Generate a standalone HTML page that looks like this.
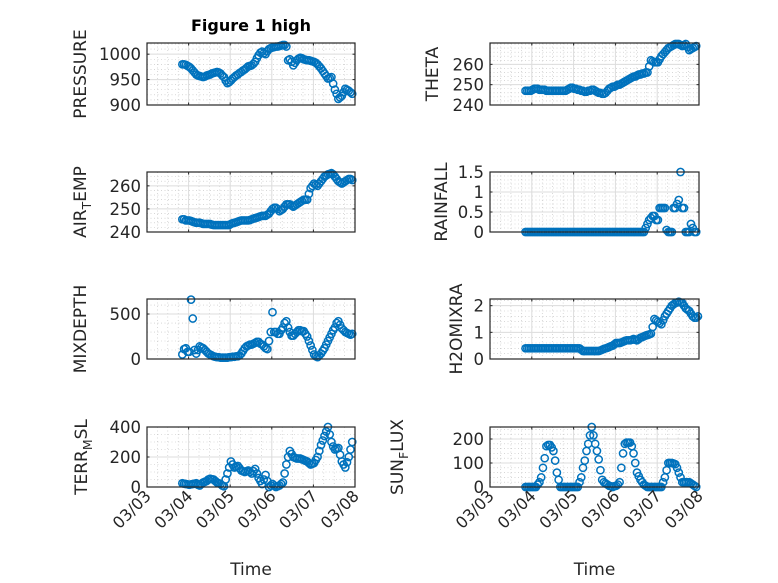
<!DOCTYPE html>
<html><head><meta charset="utf-8"><style>
html,body{margin:0;padding:0;background:#fff}
svg{display:block;font-family:"DejaVu Sans","Liberation Sans",sans-serif}
</style></head><body>
<svg id="fig" width="778" height="583" viewBox="0 0 778 583">
<text x="251" y="31" text-anchor="middle" font-size="16" font-weight="bold" fill="#000">Figure 1 high</text>
</svg>
<script>
// time in days since 03/03 00:00, hourly steps
const timeStart = 0.85, timeStep = 1/24;
const dayTicks = ['03/03','03/04','03/05','03/06','03/07','03/08'];
const pressure = [980,980,979,977,975,972,968,964,960,958,957,956,955,956,958,959,960,962,963,964,965,964,962,958,955,948,943,945,948,952,955,958,960,963,965,968,970,973,976,977,978,981,985,992,998,1003,1005,1002,1000,1006,1010,1012,1013,1014,1015,1015,1016,1017,1018,1018,1015,988,990,985,978,983,988,991,993,992,990,989,988,988,987,986,985,983,980,976,972,967,962,957,952,953,955,942,930,922,912,915,918,925,932,930,928,925,922];
const theta = [247,247,247,247,247.5,248,248,248,247.5,247.5,247.5,247.5,247,247,247,247,247,247,247,247,247,247,247,247,247.5,248,248.5,248.5,248,248,247.5,247.5,247,247,246.5,246.5,247,247,247.5,247.5,247,246.5,246,246,245.5,245.5,246,247,248,248.5,249,249,249.5,250,250,250.5,251,251.5,252,252.5,253,253.5,254,254,254.5,255,255,255.5,255.5,256,256,259,262,261.5,261,261,261,262.5,264,265,266,267,268,268.5,269,269.5,270,270,270,269.5,269,269.5,270,268.5,267,267.5,268,268.5,269];
const airTemp = [245.5,245.5,245,245,245,244.8,244.5,244.2,244,244,244,243.8,243.5,243.5,243.5,243.5,243.5,243.2,243,243,243,243,243,243,243,243,243,243,243.5,243.8,244,244.2,244.5,244.8,245,245,245,245,245,245.2,245.5,245.8,246,246.2,246.5,246.8,247,247,247,247.5,248,249,250,250.5,250.5,250,249,249.5,250,251,252,252,252,251.5,251,251.5,252,252.5,253,253.5,254,254,254,256.5,259,260,261,260.5,260,261,262,263,264,264.5,265,265.2,265.5,265,264,263,262,261.5,261,261.5,262,262.5,263,263,262.5];
const rainfall = [0,0,0,0,0,0,0,0,0,0,0,0,0,0,0,0,0,0,0,0,0,0,0,0,0,0,0,0,0,0,0,0,0,0,0,0,0,0,0,0,0,0,0,0,0,0,0,0,0,0,0,0,0,0,0,0,0,0,0,0,0,0,0,0,0,0,0,0,0,0.1,0.2,0.3,0.35,0.4,0.4,0.3,0.3,0.6,0.6,0.6,0.6,0.05,0,0,0,0.6,0.6,0.7,0.8,1.5,0.6,0.6,0,0,0,0.2,0.1,0,0];
const mixDepth = [50,110,120,80,80,660,450,100,60,100,140,130,120,100,80,60,50,40,30,25,20,20,15,15,15,15,15,20,20,25,25,30,30,40,60,90,120,140,150,160,160,170,180,190,190,170,160,140,120,110,200,300,520,300,300,280,280,320,350,400,420,350,300,260,260,280,300,320,320,310,310,280,250,200,150,100,50,30,20,40,60,90,120,160,200,240,280,320,350,400,420,380,340,320,300,290,280,270,280];
const h2oMix = [0.4,0.4,0.4,0.4,0.4,0.4,0.4,0.4,0.4,0.4,0.4,0.4,0.4,0.4,0.4,0.4,0.4,0.4,0.4,0.4,0.4,0.4,0.4,0.4,0.4,0.4,0.4,0.4,0.4,0.4,0.4,0.4,0.35,0.3,0.3,0.3,0.3,0.3,0.3,0.3,0.3,0.3,0.3,0.32,0.35,0.38,0.4,0.42,0.45,0.48,0.5,0.55,0.6,0.6,0.6,0.62,0.65,0.68,0.7,0.7,0.7,0.72,0.75,0.72,0.7,0.75,0.8,0.82,0.85,0.88,0.9,0.92,0.95,1.2,1.5,1.45,1.4,1.35,1.3,1.45,1.6,1.7,1.8,1.9,2.0,2.05,2.1,2.12,2.15,2.12,2.1,2.0,1.9,1.85,1.8,1.7,1.6,1.55,1.55,1.6];
const terrMsl = [25,22,20,18,15,18,20,22,25,15,10,20,30,35,40,50,55,52,50,40,30,25,20,10,5,50,90,130,170,150,130,135,140,125,110,105,100,105,110,100,90,105,120,90,60,40,20,50,80,40,0,10,20,10,0,5,10,20,30,90,150,200,240,220,200,195,190,190,190,185,180,175,170,160,150,155,160,180,200,240,280,310,340,370,400,350,300,270,250,255,260,215,170,150,130,165,200,250,300];
const sunFlux = [0,0,0,0,0,0,0,10,20,40,80,120,170,175,175,165,150,110,60,30,0,0,0,0,0,0,0,0,0,0,0,20,40,80,110,150,180,215,250,215,180,150,115,70,30,20,15,10,5,3,0,3,5,10,20,80,140,180,185,185,185,170,140,100,60,45,30,20,10,5,0,0,0,0,0,0,0,0,0,20,40,70,100,100,100,98,95,80,60,40,20,20,20,20,20,15,10,5,0];

const NS='http://www.w3.org/2000/svg';
const svg=document.getElementById('fig');
function mk(tag,attrs,parent){const e=document.createElementNS(NS,tag);for(const k in attrs)e.setAttribute(k,attrs[k]);(parent||svg).appendChild(e);return e;}

const panels=[
 {name:'pressure',data:pressure,x0:147,x1:355,y0:43,y1:105,ymin:900,ymax:1022,ticks:[900,950,1000],minor:10,label:['PRESSURE'],lx:86},
 {name:'theta',data:theta,x0:490,x1:699,y0:43,y1:105,ymin:240,ymax:270.5,ticks:[240,250,260],minor:2,label:['THETA'],lx:438},
 {name:'air-temp',data:airTemp,x0:147,x1:355,y0:172,y1:232,ymin:240,ymax:266,ticks:[240,250,260],minor:2,label:['AIR','T','EMP'],lx:86},
 {name:'rainfall',data:rainfall,x0:490,x1:699,y0:172,y1:232,ymin:0,ymax:1.5,ticks:[0,0.5,1,1.5],minor:0.1,label:['RAINFALL'],lx:447},
 {name:'mixdepth',data:mixDepth,x0:147,x1:355,y0:299,y1:359,ymin:0,ymax:667,ticks:[0,500],minor:100,label:['MIXDEPTH'],lx:86},
 {name:'h2omixra',data:h2oMix,x0:490,x1:699,y0:299,y1:359,ymin:0,ymax:2.25,ticks:[0,1,2],minor:0.2,label:['H2OMIXRA'],lx:462},
 {name:'terr-msl',data:terrMsl,x0:147,x1:355,y0:427,y1:487,ymin:0,ymax:400,ticks:[0,200,400],minor:50,label:['TERR','M','SL'],lx:87},
 {name:'sun-flux',data:sunFlux,x0:490,x1:699,y0:427,y1:487,ymin:0,ymax:250,ticks:[0,100,200],minor:20,label:['SUN','F','LUX'],lx:403}
];

panels.forEach((p,pi)=>{
  const g=mk('g',{});
  
  
  const xs=t=>p.x0+t/5*(p.x1-p.x0);
  const ys=v=>p.y1-(v-p.ymin)/(p.ymax-p.ymin)*(p.y1-p.y0);
  for(let t=0.25;t<5;t+=0.25){ if(Math.abs(t-Math.round(t))<1e-6)continue;
    mk('line',{x1:xs(t),x2:xs(t),y1:p.y0,y2:p.y1,stroke:'#c0c0c0','stroke-width':0.6,'stroke-dasharray':'1,2.5'},g);}
  for(let v=Math.ceil(p.ymin/p.minor)*p.minor;v<p.ymax;v+=p.minor){
    if(p.ticks.some(t=>Math.abs(t-v)<1e-6))continue;
    mk('line',{x1:p.x0,x2:p.x1,y1:ys(v),y2:ys(v),stroke:'#c0c0c0','stroke-width':0.6,'stroke-dasharray':'1,2.5'},g);}
  for(let d=1;d<5;d++) mk('line',{x1:xs(d),x2:xs(d),y1:p.y0,y2:p.y1,stroke:'#dcdcdc','stroke-width':1},g);
  p.ticks.forEach(v=>{ if(v>p.ymin&&v<p.ymax) mk('line',{x1:p.x0,x2:p.x1,y1:ys(v),y2:ys(v),stroke:'#dcdcdc','stroke-width':1},g);});
  for(let d=0;d<=5;d++){mk('line',{x1:xs(d),x2:xs(d),y1:p.y1,y2:p.y1-2.5,stroke:'#262626','stroke-width':1},g);mk('line',{x1:xs(d),x2:xs(d),y1:p.y0,y2:p.y0+2.5,stroke:'#262626','stroke-width':1},g);}
  p.ticks.forEach(v=>{
    mk('line',{x1:p.x0,x2:p.x0+2.5,y1:ys(v),y2:ys(v),stroke:'#262626'},g);
    mk('line',{x1:p.x1,x2:p.x1-2.5,y1:ys(v),y2:ys(v),stroke:'#262626'},g);
    const tl=mk('text',{x:p.x0-6,y:ys(v)+6,'text-anchor':'end','font-size':16.5,fill:'#262626'},g);
    
    
    tl.textContent=String(v);
  });
  p.data.forEach((v,i)=>{
    const c=mk('circle',{cx:xs(timeStart+i*timeStep),cy:ys(v),r:3.6,fill:'none',stroke:'#0072BD','stroke-width':1.5},g);
    
    
  });
  mk('rect',{x:p.x0,y:p.y0,width:p.x1-p.x0,height:p.y1-p.y0,fill:'none',stroke:'#262626','stroke-width':1.2},g);
  const cy=(p.y0+p.y1)/2;
  const lab=mk('text',{x:0,y:0,transform:`translate(${p.lx},${cy}) rotate(-90)`,'text-anchor':'middle','font-size':17,fill:'#262626'},g);
  
  
  if(p.label.length===1) lab.textContent=p.label[0];
  else{
    mk('tspan',{},lab).textContent=p.label[0];
    mk('tspan',{'font-size':12.5,dy:5},lab).textContent=p.label[1];
    mk('tspan',{dy:-5},lab).textContent=p.label[2];
  }
  if(pi>=6){
    dayTicks.forEach((s,d)=>{
      const t=mk('text',{x:0,y:0,transform:`translate(${xs(d)+5},${p.y1+10}) rotate(-45)`,'text-anchor':'end','font-size':16,fill:'#262626'},g);
      
      
      t.textContent=s;
    });
    const xl=mk('text',{x:(p.x0+p.x1)/2,y:575,'text-anchor':'middle','font-size':17,fill:'#262626'},g);
    
    
    xl.textContent='Time';
  }
});
</script>
</body></html>
